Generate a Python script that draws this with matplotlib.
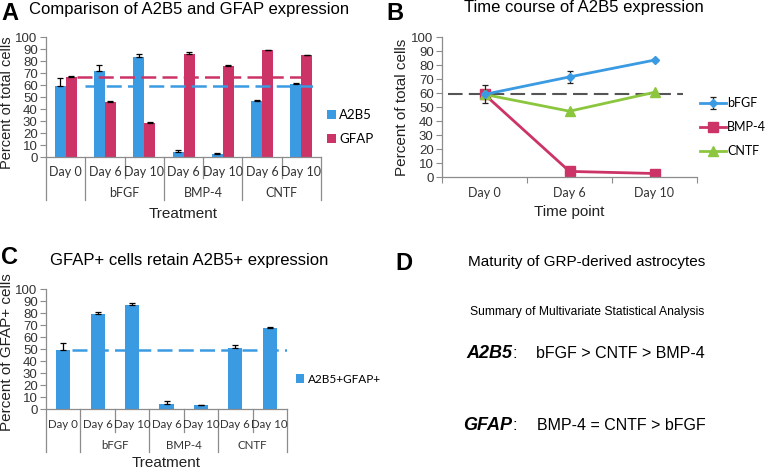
import numpy as np
import matplotlib
matplotlib.use("Agg")
import matplotlib.pyplot as plt

# ---- data ----
days = ["Day 0", "Day 6", "Day 10", "Day 6", "Day 10", "Day 6", "Day 10"]
groups = ["bFGF", "BMP-4", "CNTF"]

a2b5 = [59, 72, 83.5, 4, 2.5, 47, 61]
a2b5_err = [7, 4.5, 2, 1.5, 0.6, 0.5, 1]
gfap = [67, 45.5, 28.5, 86, 75.5, 89, 85]
gfap_err = [0.5, 1, 0.5, 1.5, 1.5, 0.4, 0.4]
a2b5_ref = 59
gfap_ref = 67

time_points = ["Day 0", "Day 6", "Day 10"]
bfgf_t = [59, 71.5, 83.5]
bfgf_err = [6.5, 4.5, 1]
bmp4_t = [59, 4, 2.5]
cntf_t = [59, 47, 60.5]
time_ref = 59.5

dbl = [49, 79.5, 86.5, 4.5, 3, 51, 67.5]
dbl_err = [6, 1, 1.5, 2, 0.5, 2, 0.5]
dbl_ref = 49

BLUE = "#3a9ae2"
RED = "#cc3366"
GREEN = "#8cc63f"
GRAY = "#8c8c8c"
TXT = "#333333"

plt.rcParams["font.family"] = ["Liberation Sans", "DejaVu Sans"]

W, H = 768, 469
fig = plt.figure(figsize=(7.68, 4.69), dpi=100)


def fx(px):
    return px / W


def fy(py):
    return 1 - py / H


def style_axis(ax):
    for s in ["top", "right"]:
        ax.spines[s].set_visible(False)
    for s in ["left", "bottom"]:
        ax.spines[s].set_color(GRAY)
        ax.spines[s].set_linewidth(0.9)
    ax.set_ylim(0, 100)
    ax.set_yticks(range(0, 101, 10))
    ax.tick_params(axis="y", direction="out", length=4, color=GRAY,
                   labelsize=9.5, labelcolor=TXT, pad=2)


def category_table(ax, r1, r2, inner_end, group_end, xlab_y, fs=9):
    ax.set_xlim(-0.5, 6.5)
    ax.set_xticks([])
    tr = ax.get_xaxis_transform()
    for i, d in enumerate(days):
        ax.text(i, r1, d, transform=tr, ha="center", va="center",
                fontsize=fs, family="Lato", color=TXT)
    for j, g in enumerate(groups):
        ax.text(1.5 + 2 * j, r2, g, transform=tr, ha="center", va="center",
                fontsize=fs, family="Lato", color=TXT)
    for x in [-0.5, 0.5, 2.5, 4.5, 6.5]:
        ax.plot([x, x], [0, group_end], transform=tr, color=GRAY, lw=0.9,
                clip_on=False)
    for x in [1.5, 3.5, 5.5]:
        ax.plot([x, x], [0, inner_end], transform=tr, color=GRAY, lw=0.9,
                clip_on=False)
    ax.text(3, xlab_y, "Treatment", transform=tr, ha="center", va="center",
            fontsize=11, color="#222222")


# ---- panel A ----
axA = fig.add_axes([fx(46), fy(157), fx(321) - fx(46), fy(37) - fy(157)])
style_axis(axA)
x = np.arange(len(days))
w = 0.28
axA.bar(x - w / 2, a2b5, w, color=BLUE, label="A2B5",
        yerr=[np.zeros(7), a2b5_err], error_kw=dict(ecolor="black", lw=0.9, capsize=2.5, capthick=0.9))
axA.bar(x + w / 2, gfap, w, color=RED, label="GFAP",
        yerr=[np.zeros(7), gfap_err], error_kw=dict(ecolor="black", lw=0.9, capsize=2.5, capthick=0.9))
axA.plot([0.29, 6.04], [gfap_ref, gfap_ref], color=RED, lw=1.8, dashes=(6, 2.5))
axA.plot([0.49, 6.4], [a2b5_ref, a2b5_ref], color=BLUE, lw=1.8, dashes=(6, 2.5))
category_table(axA, -0.125, -0.30, -0.175, -0.358, -0.475)
axA.set_ylabel("Percent of total cells", fontsize=10.5, color="#222222")
axA.yaxis.set_label_coords(-0.118, 0.45)
axA.legend(loc="center left", bbox_to_anchor=(fx(327), fy(127)), bbox_transform=fig.transFigure,
           frameon=False, prop={"family": "Lato", "size": 9.5}, handlelength=0.7, handleheight=0.7,
           handletextpad=0.2, labelspacing=0.9, borderpad=0, borderaxespad=0)

fig.text(fx(1), fy(20), "A", fontsize=17, fontweight="bold", va="baseline")
fig.text(fx(29), fy(14), "Comparison of A2B5 and GFAP expression", fontsize=12, va="baseline")

# ---- panel B ----
axB = fig.add_axes([fx(442), fy(177), fx(697) - fx(442), fy(37) - fy(177)])
style_axis(axB)
axB.set_xlim(0, 3)
axB.set_xticks([0, 1, 2, 3])
axB.set_xticklabels([])
axB.tick_params(axis="x", direction="out", length=4, color=GRAY)
tp = np.arange(3) + 0.5
for i, t in enumerate(time_points):
    axB.text(tp[i], -0.115, t, transform=axB.get_xaxis_transform(), ha="center", va="center",
             fontsize=9, family="Lato", color=TXT)
axB.plot([0.07, 2.83], [time_ref, time_ref], color="#555555", lw=1.5, dashes=(7, 3))
axB.plot(tp, bmp4_t, color=RED, lw=2, marker="s", ms=7, label="BMP-4")
axB.plot(tp, cntf_t, color=GREEN, lw=2, marker="^", ms=7, label="CNTF")
axB.errorbar(tp, bfgf_t, yerr=bfgf_err, color=BLUE, lw=2, marker="D", ms=4.5, label="bFGF",
             ecolor="#222222", elinewidth=0.9, capsize=2.5, capthick=0.9)
h, l = axB.get_legend_handles_labels()
order = [l.index("bFGF"), l.index("BMP-4"), l.index("CNTF")]
axB.legend([h[i] for i in order], [l[i] for i in order], loc="center left",
           bbox_to_anchor=(fx(700), fy(127)), bbox_transform=fig.transFigure,
           frameon=False, prop={"family": "Lato", "size": 9}, handlelength=2.1,
           handletextpad=0.05, labelspacing=0.95, borderpad=0, borderaxespad=0)
axB.set_ylabel("Percent of total cells", fontsize=11, color="#222222")
axB.yaxis.set_label_coords(-0.13, 0.5)
axB.text(1.5, -0.25, "Time point", transform=axB.get_xaxis_transform(), ha="center", va="center",
         fontsize=11, color="#222222")

fig.text(fx(386), fy(20), "B", fontsize=17, fontweight="bold", va="baseline")
fig.text(fx(584), fy(12), "Time course of A2B5 expression", fontsize=12, ha="center", va="baseline")

# ---- panel C ----
axC = fig.add_axes([fx(46), fy(409), fx(287) - fx(46), fy(289) - fy(409)])
style_axis(axC)
axC.bar(x, dbl, 0.41, color=BLUE, label="A2B5+GFAP+",
        yerr=[np.zeros(7), dbl_err], error_kw=dict(ecolor="black", lw=0.9, capsize=2.5, capthick=0.9))
axC.plot([0.255, 6.5], [dbl_ref, dbl_ref], color=BLUE, lw=1.8, dashes=(6, 2.5))
category_table(axC, -0.125, -0.308, -0.19, -0.358, -0.45, fs=8.3)
axC.set_ylabel("Percent of GFAP+ cells", fontsize=11, color="#222222")
axC.yaxis.set_label_coords(-0.133, 0.47)
axC.legend(loc="center left", bbox_to_anchor=(fx(296), fy(379)), bbox_transform=fig.transFigure,
           frameon=False, prop={"family": "Lato", "size": 8.5}, handlelength=0.7, handleheight=0.7,
           handletextpad=0.3, borderpad=0, borderaxespad=0)

fig.text(fx(1), fy(264), "C", fontsize=17, fontweight="bold", va="baseline")
fig.text(fx(50), fy(265), "GFAP+ cells retain A2B5+ expression", fontsize=12, va="baseline")

# ---- panel D ----
fig.text(fx(395), fy(270), "D", fontsize=17, fontweight="bold", va="baseline")
fig.text(fx(587), fy(266), "Maturity of GRP-derived astrocytes", fontsize=11, ha="center", va="baseline")
fig.text(fx(587), fy(315), "Summary of Multivariate Statistical Analysis", fontsize=8.7,
         ha="center", va="baseline")
fig.text(fx(512), fy(358), "A2B5", fontsize=13, fontweight="bold", style="italic",
         ha="right", va="baseline")
fig.text(fx(512), fy(358), ":", fontsize=12, ha="left", va="baseline")
fig.text(fx(536), fy(358), "bFGF > CNTF > BMP-4", fontsize=11.5, ha="left", va="baseline")
fig.text(fx(512), fy(430), "GFAP", fontsize=13, fontweight="bold", style="italic",
         ha="right", va="baseline")
fig.text(fx(512), fy(430), ":", fontsize=12, ha="left", va="baseline")
fig.text(fx(537), fy(430), "BMP-4 = CNTF > bFGF", fontsize=11.5, ha="left", va="baseline")

fig.savefig("out.png", dpi=100)
